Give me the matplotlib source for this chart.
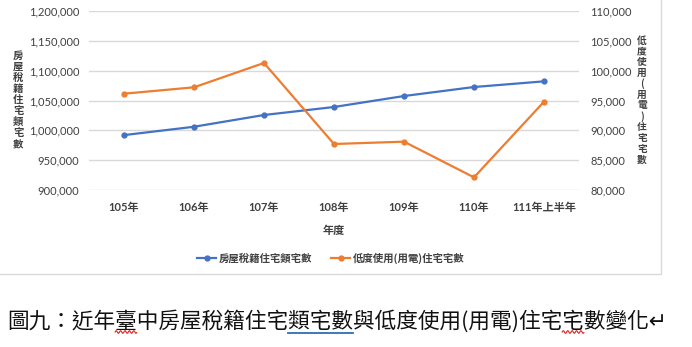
import numpy as np
import matplotlib
matplotlib.use("Agg")
import matplotlib.pyplot as plt
from matplotlib.patches import Rectangle
from matplotlib.ticker import FuncFormatter, MultipleLocator
from matplotlib.font_manager import FontProperties

plt.rcParams['font.family'] = ['Lato', 'Noto Sans CJK TC', 'DejaVu Sans']

# ---- data ----
years = ["105年", "106年", "107年", "108年", "109年", "110年", "111年上半年"]
tax_housing = [992000, 1006000, 1025700, 1039100, 1057500, 1072600, 1082100]
low_use_housing = [96140, 97210, 101290, 87710, 88100, 82120, 94800]

left_label = "房屋稅籍住宅類宅數"
right_label = "低度使用(用電)住宅宅數"
x_title = "年度"
caption = "圖九：近年臺中房屋稅籍住宅類宅數與低度使用(用電)住宅宅數變化"

BLUE = "#4472C4"
ORANGE = "#ED7D31"
GRID = "#D9D9D9"
TXT = "#404040"

W, H = 692, 347
fig = plt.figure(figsize=(W / 100, H / 100), dpi=100)
fig.patch.set_facecolor("white")

def fx(px):
    return px / W

def fy(py):
    return 1 - py / H

# chart frame
fig.patches.append(Rectangle((fx(-2), fy(274)), fx(661) - fx(-2), fy(-2) - fy(274),
                             transform=fig.transFigure, fill=False,
                             edgecolor=GRID, linewidth=1.0))

ax = fig.add_axes([fx(89), fy(190), fx(579) - fx(89), fy(11) - fy(190)])
ax2 = ax.twinx()

x = np.arange(len(years))
l1, = ax.plot(x, tax_housing, color=BLUE, lw=1.6, marker="o", ms=3.5,
              label=left_label, zorder=3)
l2, = ax2.plot(x, low_use_housing, color=ORANGE, lw=1.6, marker="o", ms=3.5,
               label=right_label, zorder=3)

ax.set_xlim(-0.5, len(years) - 0.5)
ax.set_ylim(900000, 1200000)
ax2.set_ylim(80000, 110000)
ax.yaxis.set_major_locator(MultipleLocator(50000))
ax2.yaxis.set_major_locator(MultipleLocator(5000))
fmt = FuncFormatter(lambda v, p: f"{int(round(v)):,}")
ax.yaxis.set_major_formatter(fmt)
ax2.yaxis.set_major_formatter(fmt)

ax.set_xticks(x)
ax.set_xticklabels(years)
ax.grid(axis="y", color=GRID, lw=1.0)
ax.set_axisbelow(True)
for a in (ax, ax2):
    for s in a.spines.values():
        s.set_visible(False)
    a.tick_params(length=0, labelsize=8, labelcolor=TXT)
ax.tick_params(axis="y", pad=7)
ax2.tick_params(axis="y", pad=8)
ax.tick_params(axis="x", pad=9)
for t in ax.get_xticklabels():
    t.set_fontweight("bold")

ax.set_xlabel(x_title, fontsize=8, color=TXT, fontweight="bold", labelpad=8)

# stacked vertical axis titles
cjk = ['Noto Sans CJK TC', 'DejaVu Sans']
fig.text(fx(18), fy(100), "\n".join(left_label), ha="center", va="center",
         fontsize=7.5, color=TXT, linespacing=1.13, fontweight="bold", family=cjk)
fig.text(fx(642), fy(100), "\n".join(right_label), ha="center", va="center",
         fontsize=7, color=TXT, linespacing=1.08, fontweight="bold", family=cjk)

fig.legend(handles=[l1, l2], loc="center", bbox_to_anchor=(fx(331), fy(258)),
           ncol=2, frameon=False, handlelength=1.8,
           columnspacing=1.8, handletextpad=0.3, labelcolor=TXT,
           prop={'family': ['Noto Sans CJK TC'], 'size': 7.5, 'weight': 'bold'})

# caption line below the chart
cap_fp = FontProperties(family=['Noto Sans CJK TC', 'DejaVu Sans'], size=15.6)
cap = fig.text(fx(7), fy(321), caption + "↵", ha="left", va="center",
               fontproperties=cap_fp, color="#111111")

fig.canvas.draw()
renderer = fig.canvas.get_renderer()
bb = cap.get_window_extent(renderer)

def span(i0, i1):
    w0 = renderer.get_text_width_height_descent(caption[:i0], cap_fp, ismath=False)[0] if i0 else 0
    w1 = renderer.get_text_width_height_descent(caption[:i1], cap_fp, ismath=False)[0]
    return bb.x0 + w0, bb.x0 + w1

base_px = H - 332  # display coords (origin bottom-left)

def squiggle(i0, i1):
    a, b = span(i0, i1)
    xs = np.linspace(a, b, 60)
    ys = base_px + 1.3 * np.sin((xs - a) / 2.2 * np.pi)
    fig.add_artist(plt.Line2D(xs / W, ys / H, transform=fig.transFigure,
                              color="#E02020", lw=0.8))

squiggle(5, 6)
squiggle(27, 28)
a, b = span(13, 16)
fig.add_artist(plt.Line2D([a / W, b / W], [(base_px - 0.5) / H] * 2,
                          transform=fig.transFigure, color="#2E6FB0", lw=1.3))

fig.savefig("out.png", dpi=100, facecolor="white")
